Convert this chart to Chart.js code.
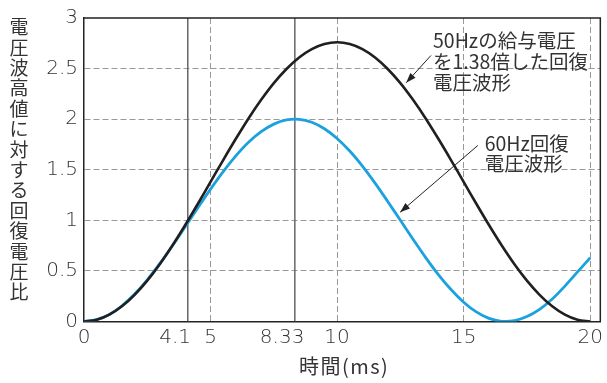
<!DOCTYPE html>
<html lang="ja">
<head>
<meta charset="UTF-8">
<title>回復電圧波形</title>
<script src="https://cdn.jsdelivr.net/npm/chart.js"></script>
<style>
    body { margin: 0; background: #fff; }
    #wrap { width: 607px; height: 383px; }
</style>
</head>
<body>
<div id="wrap"><canvas id="chart" width="607" height="383"></canvas></div>
<script>
    // time axis (ms)
    const times = [0, 0.5, 1, 1.5, 2, 2.5, 3, 3.5, 4, 4.5, 5, 5.5, 6, 6.5, 7, 7.5, 8, 8.5, 9, 9.5,
                   10, 10.5, 11, 11.5, 12, 12.5, 13, 13.5, 14, 14.5, 15, 15.5, 16, 16.5, 17, 17.5, 18, 18.5, 19, 19.5, 20];
    // 50Hz supply voltage x1.38
    const wave50 = [0, 0.017, 0.068, 0.150, 0.264, 0.404, 0.569, 0.754, 0.954, 1.164, 1.380, 1.596, 1.806, 2.007, 2.191, 2.356, 2.496, 2.610, 2.693, 2.743,
                    2.760, 2.743, 2.693, 2.610, 2.496, 2.356, 2.191, 2.007, 1.806, 1.596, 1.380, 1.164, 0.954, 0.754, 0.569, 0.404, 0.264, 0.150, 0.068, 0.017, 0];
    // 60Hz recovery voltage
    const wave60 = [0, 0.018, 0.070, 0.156, 0.271, 0.412, 0.574, 0.751, 0.937, 1.125, 1.309, 1.482, 1.637, 1.771, 1.876, 1.951, 1.992, 1.998, 1.969, 1.905,
                    1.809, 1.685, 1.536, 1.368, 1.187, 1.000, 0.813, 0.632, 0.464, 0.316, 0.191, 0.095, 0.031, 0.002, 0.008, 0.049, 0.120, 0.222, 0.350, 0.490, 0.630];

    const xTicks = [0, 4.1, 5, 8.33, 10, 15, 20];
    const xTickText = ['0', '4.1    ', '5', '8.33    ', '10', '15', '20'];
    const dashedX = [5, 10, 15, 20];
    const markTimes = [4.1, 8.33];
    const yTitle = '電圧波高値に対する回復電圧比';
    const xTitle = '時間(ms)';

    const tickFont = { family: '"DejaVu Sans", sans-serif', size: 20, weight: 200 };
    const jpFont = '"Noto Sans CJK JP", sans-serif';
    const textColor = '#333';

    const markSets = markTimes.map(t => ({
        data: [{ x: t, y: 0 }, { x: t, y: 3 }],
        borderColor: '#666',
        borderWidth: 1.5,
        pointRadius: 0,
        tension: 0,
        order: 3
    }));

    function arrow(ctx, x1, y1, x2, y2) {
        ctx.beginPath();
        ctx.moveTo(x1, y1);
        ctx.lineTo(x2, y2);
        ctx.stroke();
        const a = Math.atan2(y2 - y1, x2 - x1);
        const len = 10, w = 3.5;
        ctx.beginPath();
        ctx.moveTo(x2, y2);
        ctx.lineTo(x2 - len * Math.cos(a) + w * Math.sin(a), y2 - len * Math.sin(a) - w * Math.cos(a));
        ctx.lineTo(x2 - len * Math.cos(a) - w * Math.sin(a), y2 - len * Math.sin(a) + w * Math.cos(a));
        ctx.closePath();
        ctx.fill();
    }

    const extras = {
        id: 'extras',
        afterDraw(chart) {
            const { ctx, chartArea: a, scales: { x, y } } = chart;
            ctx.save();
            // top / right frame
            ctx.strokeStyle = '#222';
            ctx.lineWidth = 1.5;
            ctx.beginPath();
            ctx.moveTo(a.left, a.top);
            ctx.lineTo(a.right, a.top);
            ctx.lineTo(a.right, a.bottom);
            ctx.stroke();

            // vertical y title, upright characters
            ctx.fillStyle = textColor;
            ctx.font = '19px ' + jpFont;
            ctx.textAlign = 'center';
            ctx.textBaseline = 'middle';
            [...yTitle].forEach((c, i) => ctx.fillText(c, 19, 27 + i * 20.4));

            // x title
            ctx.font = '20px ' + jpFont;
            ctx.letterSpacing = '1.5px';
            ctx.fillText(xTitle, x.getPixelForValue(10) + 7, 366);
            ctx.letterSpacing = '0px';

            // annotations
            ctx.textAlign = 'left';
            ctx.font = '19.5px ' + jpFont;
            const l1 = x.getPixelForValue(13.79);
            ['50Hzの給与電圧', 'を1.38倍した回復', '電圧波形'].forEach((s, i) =>
                ctx.fillText(s, l1, y.getPixelForValue(2.78) + i * 21.3));
            const l2 = x.getPixelForValue(15.83);
            ['60Hz回復', '電圧波形'].forEach((s, i) =>
                ctx.fillText(s, l2, y.getPixelForValue(1.76) + i * 20.5));

            ctx.strokeStyle = '#222';
            ctx.fillStyle = '#222';
            ctx.lineWidth = 1;
            arrow(ctx, x.getPixelForValue(13.71), y.getPixelForValue(2.63), x.getPixelForValue(12.73), y.getPixelForValue(2.36));
            arrow(ctx, x.getPixelForValue(15.56), y.getPixelForValue(1.74), x.getPixelForValue(12.49), y.getPixelForValue(1.08));
            ctx.restore();
        }
    };

    new Chart(document.getElementById('chart'), {
        type: 'line',
        data: {
            datasets: [
                {
                    data: times.map((t, i) => ({ x: t, y: wave50[i] })),
                    borderColor: '#231f20',
                    borderWidth: 2.6,
                    pointRadius: 0,
                    tension: 0.33,
                    order: 1
                },
                {
                    data: times.map((t, i) => ({ x: t, y: wave60[i] })),
                    borderColor: '#1ba2de',
                    borderWidth: 2.8,
                    pointRadius: 0,
                    tension: 0.33,
                    order: 2
                },
                ...markSets
            ]
        },
        options: {
            responsive: false,
            animation: false,
            layout: { padding: { left: 0, right: 4, top: 15, bottom: 0 } },
            plugins: { legend: { display: false }, tooltip: { enabled: false } },
            scales: {
                x: {
                    type: 'linear',
                    min: 0,
                    max: 20.4,
                    afterBuildTicks: s => { s.ticks = xTicks.map(v => ({ value: v })); },
                    afterFit: s => { s.height = 61.5; },
                    ticks: {
                        font: tickFont,
                        color: textColor,
                        padding: 4,
                        maxRotation: 0,
                        autoSkip: false,
                        callback: (v, i) => xTickText[i]
                    },
                    grid: {
                        drawTicks: false,
                        lineWidth: 1,
                        color: c => (c.tick && dashedX.includes(c.tick.value)) ? '#999' : 'rgba(0,0,0,0)'
                    },
                    border: { display: true, color: '#222', width: 1.5, dash: [6, 3] }
                },
                y: {
                    min: 0,
                    max: 3,
                    afterFit: s => { s.width = 84; },
                    ticks: {
                        stepSize: 0.5,
                        font: tickFont,
                        color: textColor,
                        padding: 6,
                        callback: v => String(v)
                    },
                    grid: {
                        drawTicks: false,
                        lineWidth: 1,
                        color: c => (c.tick && c.tick.value > 0 && c.tick.value < 3) ? '#999' : 'rgba(0,0,0,0)'
                    },
                    border: { display: true, color: '#222', width: 1.5, dash: [6, 3] }
                }
            }
        },
        plugins: [extras]
    });
</script>
</body>
</html>
